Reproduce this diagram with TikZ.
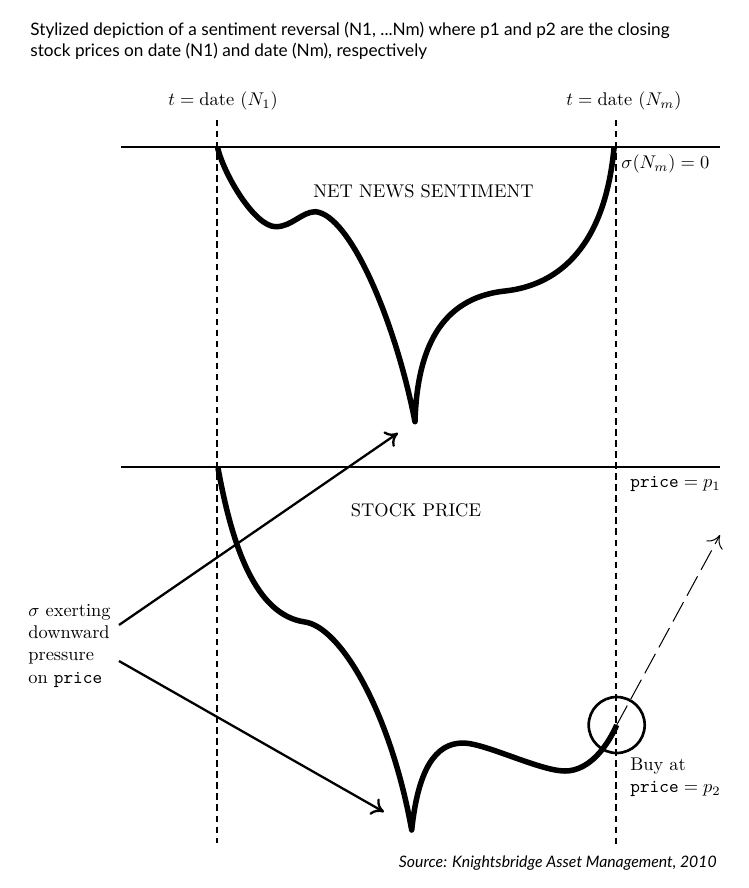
\documentclass[tikz,border=0pt]{standalone}
\usepackage{fontspec}
\newfontfamily\capfont{Lato}
\usetikzlibrary{arrows.meta}
\begin{document}
\begin{tikzpicture}[x=0.5435pt,y=-0.5435pt,
  axisline/.style={line width=1.45pt},
  guide/.style={line width=0.65pt, dash pattern=on 3.5pt off 2.5pt},
  curve/.style={line width=3pt, line join=round},
  pointer/.style={line width=1.25pt, -{Computer Modern Rightarrow[length=6.5pt,width=10pt]}},
  projection/.style={line width=0.55pt, dash pattern=on 12pt off 4pt, -{Computer Modern Rightarrow[length=6.5pt,width=10pt]}},
  lbl/.style={inner sep=0pt, align=left},
  captxt/.style={inner sep=0pt, align=left, font=\capfont\fontsize{9.35}{11.3}\selectfont},
  srctxt/.style={inner sep=0pt, font=\capfont\itshape\fontsize{8.6}{10}\selectfont}
]
\useasboundingbox (0,0) rectangle (749,888);

% caption
\node[captxt, anchor=base west] (caption) at (30,56) {Stylized depiction of a sentiment reversal (N1, ...Nm) where p1 and p2 are the closing\\stock prices on date (N1) and date (Nm), respectively};

% date labels
\node[lbl] (dateA) at (223,101) {$t = \mathrm{date}\ (N_1)$};
\node[lbl] (dateB) at (624,101) {$t = \mathrm{date}\ (N_m)$};

% guides
\coordinate (gAt) at (217,120);
\coordinate (gAb) at (217,843);
\coordinate (gBt) at (616,120);
\coordinate (gBb) at (616,846);
\draw[guide] (gAt) -- (gAb);
\draw[guide] (gBt) -- (gBb);

% axis lines
\coordinate (sL) at (121,147);
\coordinate (sR) at (720,147);
\coordinate (pL) at (121,467);
\coordinate (pR) at (720,467);
\draw[axisline] (sL) -- (sR);
\draw[axisline] (pL) -- (pR);

% labels
\node[lbl] (sentlab) at (423.5,191) {NET NEWS SENTIMENT};
\node[lbl] (pricelab) at (416,510) {STOCK PRICE};
\node[lbl, anchor=west] (zero) at (621,164) {$\sigma(N_m) = 0$};
\node[lbl, anchor=west] (pone) at (630,484) {$\texttt{price} = p_1$};
\node[lbl, anchor=base west] (buy) at (630,792.5) {Buy at\\$\texttt{price} = p_2$};
\node[lbl, anchor=base west] (press) at (28,683) {$\sigma$ exerting\\downward\\pressure\\on \texttt{price}};

% sentiment curve
\draw[curve] (217.5,147.3) .. controls (224,175) and (255,227) .. (276,226.7)
  .. controls (292,226.5) and (302,211.7) .. (315.5,211.7)
  .. controls (350,215) and (395,320) .. (415,421.7)
  .. controls (417,350) and (440,298) .. (505,291)
  .. controls (560,285) and (605,245) .. (614,148);

% stock price curve
\draw[curve] (218,468) .. controls (232,545) and (255,615) .. (305,622)
  .. controls (340,627) and (390,710) .. (411.7,830)
  .. controls (418,770) and (435,743) .. (463,743)
  .. controls (485,743) and (540,771) .. (565,771)
  .. controls (590,771) and (608,745) .. (616.7,725);

% buy point
\coordinate (buypt) at (616.7,725);
\draw[line width=1.45pt] (buypt) circle[radius=28];
\coordinate (target) at (720,535);
\draw[projection] (buypt) -- (target);

% pressure arrows
\coordinate (upS) at (119,625);
\coordinate (upE) at (398,433);
\coordinate (dnS) at (119,661);
\coordinate (dnE) at (384,812);
\draw[pointer] (upS) -- (upE);
\draw[pointer] (dnS) -- (dnE);

% source
\node[srctxt, anchor=base east] (source) at (717,867) {Source: Knightsbridge Asset Management, 2010};
\end{tikzpicture}
\end{document}
